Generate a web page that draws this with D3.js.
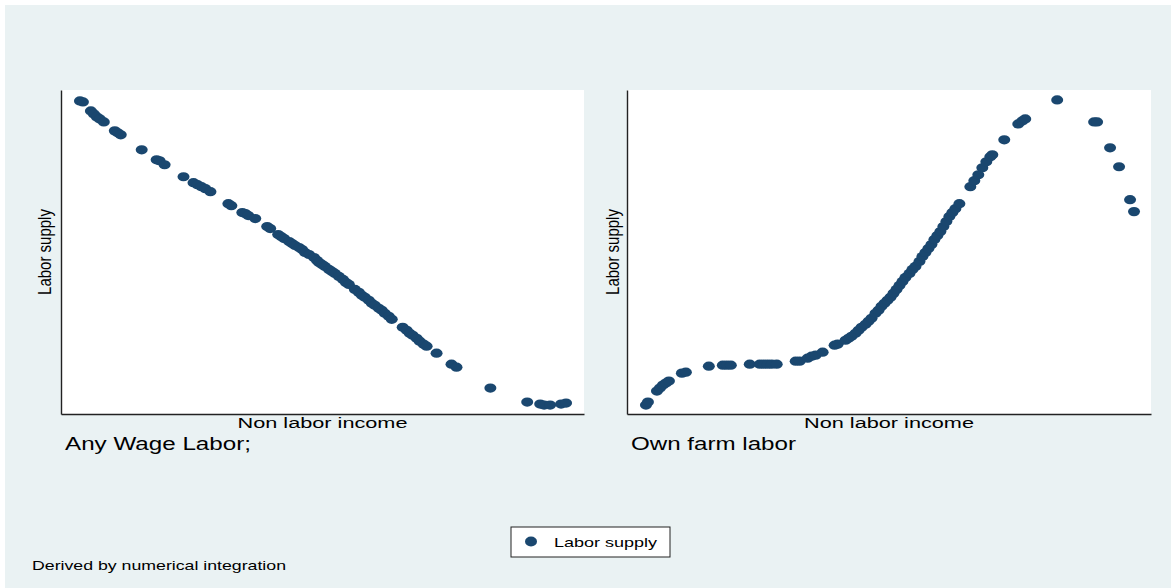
<!DOCTYPE html>
<html>
<head>
<meta charset="utf-8">
<script src="https://cdn.jsdelivr.net/npm/d3@7"></script>
<style>
html,body{margin:0;padding:0;background:#fff;}
svg{display:block;font-family:"Liberation Sans",Arial,Helvetica,sans-serif;}
</style>
</head>
<body>
<svg id="chart" width="1171" height="588"></svg>
<script>
// ---------- data ----------
const panelTitles = ["Any Wage Labor;", "Own farm labor"];
const xAxisTitle = "Non labor income";
const yAxisTitle = "Labor supply";
const legendLabel = "Labor supply";
const noteText = "Derived by numerical integration";

const wageIncome = [3.8,4.4,6.0,6.6,7.2,7.8,8.6,10.8,11.4,12.0,16.2,19.2,19.8,20.8,24.6,26.6,27.4,28.2,29.0,30.0,
  33.6,34.2,36.4,37.0,37.6,39.0,41.4,42.0,43.6,44.2,44.8,45.8,46.4,47.0,47.8,48.4,49.0,49.8,50.8,51.4,
  51.8,52.4,53.0,53.8,54.4,55.0,55.8,56.6,57.2,57.8,59.0,59.8,60.4,61.0,61.8,62.4,63.0,63.8,64.4,65.0,
  65.8,66.4,68.6,69.4,70.0,70.6,71.4,72.0,72.8,73.4,75.4,78.4,79.4,86.2,93.6,96.2,97.0,98.2,100.4,101.4];
const wageLabor = [62.8,62.6,60.8,60.2,59.6,59.2,58.6,56.8,56.4,56.0,53.0,51.0,50.8,50.0,47.6,46.4,46.0,45.6,45.2,44.6,
  42.2,41.8,40.4,40.2,39.8,39.2,37.6,37.2,36.0,35.6,35.2,34.6,34.2,33.8,33.4,33.0,32.4,32.0,31.4,30.8,
  30.4,30.0,29.6,29.0,28.6,28.2,27.6,27.0,26.4,26.0,25.0,24.4,23.8,23.4,22.8,22.2,21.8,21.2,20.8,20.2,
  19.6,19.0,17.4,16.8,16.2,15.8,15.2,14.6,14.0,13.6,12.2,10.0,9.4,5.2,2.4,2.0,1.8,1.8,2.0,2.2];

const farmIncome = [3.8,4.2,6.0,6.6,7.2,7.8,8.4,11.0,11.8,16.4,19.2,20.0,20.8,24.6,26.6,27.4,28.2,29.0,30.0,
  33.8,34.6,36.2,37.0,37.8,39.2,41.6,42.2,43.8,44.4,45.0,45.8,46.4,47.0,47.8,48.4,49.0,49.8,50.4,51.0,
  51.6,52.2,52.8,53.4,54.0,54.6,55.2,55.8,56.6,57.2,57.8,58.6,59.2,59.8,60.4,61.0,61.6,62.2,62.8,63.4,
  64.0,64.6,65.2,65.8,66.6,68.8,69.6,70.4,71.2,72.0,72.8,73.2,75.6,78.4,79.2,79.8,86.2,93.6,94.2,96.8,
  98.6,100.8,101.6];
const farmLabor = [1.8,2.4,4.6,5.2,5.8,6.2,6.6,8.2,8.4,9.6,9.8,9.8,9.8,10.0,10.0,10.0,10.0,10.0,10.0,
  10.6,10.6,11.2,11.6,11.8,12.4,13.8,14.0,14.8,15.2,15.6,16.2,16.8,17.4,18.0,18.6,19.2,20.2,20.8,21.6,
  22.2,22.8,23.4,24.2,25.0,25.8,26.6,27.4,28.2,29.0,29.6,30.6,31.6,32.4,33.2,34.0,35.0,35.8,36.6,37.6,
  38.6,39.6,40.4,41.2,42.2,45.6,46.8,48.0,49.4,50.6,51.6,52.0,55.0,58.2,58.8,59.2,63.0,58.6,58.6,53.4,
  49.6,43.0,40.6];

const xDomain = [0, 105];
const yDomain = [0, 65];

// ---------- layout ----------
const W = 1171, H = 588;
const bgColor = "#EAF2F3";
const markerColor = "#1a476f";
const panels = [
  {x0: 61, x1: 584, y0: 90, y1: 414, income: wageIncome, labor: wageLabor, title: panelTitles[0], ytX: 51},
  {x0: 627, x1: 1151, y0: 90, y1: 414, income: farmIncome, labor: farmLabor, title: panelTitles[1], ytX: 619}
];

const svg = d3.select("#chart");
svg.append("rect").attr("x", 0).attr("y", 0).attr("width", W).attr("height", H).attr("fill", "#fff");
svg.append("rect").attr("x", 5).attr("y", 5).attr("width", W - 5).attr("height", H - 5).attr("fill", bgColor);

panels.forEach(p => {
  const x = d3.scaleLinear().domain(xDomain).range([p.x0, p.x1]);
  const y = d3.scaleLinear().domain(yDomain).range([p.y1, p.y0]);
  const g = svg.append("g");
  g.append("rect").attr("x", p.x0).attr("y", p.y0).attr("width", p.x1 - p.x0).attr("height", p.y1 - p.y0).attr("fill", "#fff");

  // axes (no ticks, just lines)
  const ax = g.append("g").attr("transform", `translate(0,${p.y1})`)
    .call(d3.axisBottom(x).ticks(0).tickSizeOuter(0));
  const ay = g.append("g").attr("transform", `translate(${p.x0},0)`)
    .call(d3.axisLeft(y).ticks(0).tickSizeOuter(0));
  [ax, ay].forEach(a => { a.selectAll(".tick").remove(); a.select(".domain").attr("stroke", "#222").attr("stroke-width", 1.4); });

  // points
  const pts = p.income.map((v, i) => ({x: v, y: p.labor[i]}));
  g.append("g").selectAll("ellipse").data(pts).join("ellipse")
    .attr("cx", d => x(d.x)).attr("cy", d => y(d.y))
    .attr("rx", 6).attr("ry", 4.6)
    .attr("fill", markerColor);

  // x title
  g.append("text").attr("x", (p.x0 + p.x1) / 2).attr("y", 428)
    .attr("text-anchor", "middle").attr("font-size", 15.5).attr("fill", "#000")
    .attr("textLength", 170).attr("lengthAdjust", "spacingAndGlyphs")
    .text(xAxisTitle);

  // y title (rotated, glyphs widened horizontally)
  g.append("text")
    .attr("transform", `translate(${p.ytX},${(p.y0 + p.y1) / 2}) scale(1.25,1) rotate(-90)`)
    .attr("text-anchor", "middle").attr("font-size", 15).attr("fill", "#000")
    .text(yAxisTitle);

  // panel subtitle
  g.append("text").attr("x", p.x0 + 4).attr("y", 450)
    .attr("font-size", 17.5).attr("fill", "#000")
    .attr("textLength", p === panels[0] ? 186 : 165).attr("lengthAdjust", "spacingAndGlyphs")
    .text(p.title);
});

// legend
const lg = svg.append("g");
lg.append("rect").attr("x", 511).attr("y", 527).attr("width", 159).attr("height", 30)
  .attr("fill", "#fff").attr("stroke", "#222").attr("stroke-width", 1);
lg.append("ellipse").attr("cx", 531).attr("cy", 541.5).attr("rx", 6).attr("ry", 5).attr("fill", markerColor);
lg.append("text").attr("x", 554).attr("y", 547).attr("font-size", 13.5).attr("fill", "#000")
  .attr("textLength", 103).attr("lengthAdjust", "spacingAndGlyphs").text(legendLabel);

// note
svg.append("text").attr("x", 32).attr("y", 570).attr("font-size", 13).attr("fill", "#000")
  .attr("textLength", 254).attr("lengthAdjust", "spacingAndGlyphs").text(noteText);
</script>
</body>
</html>
